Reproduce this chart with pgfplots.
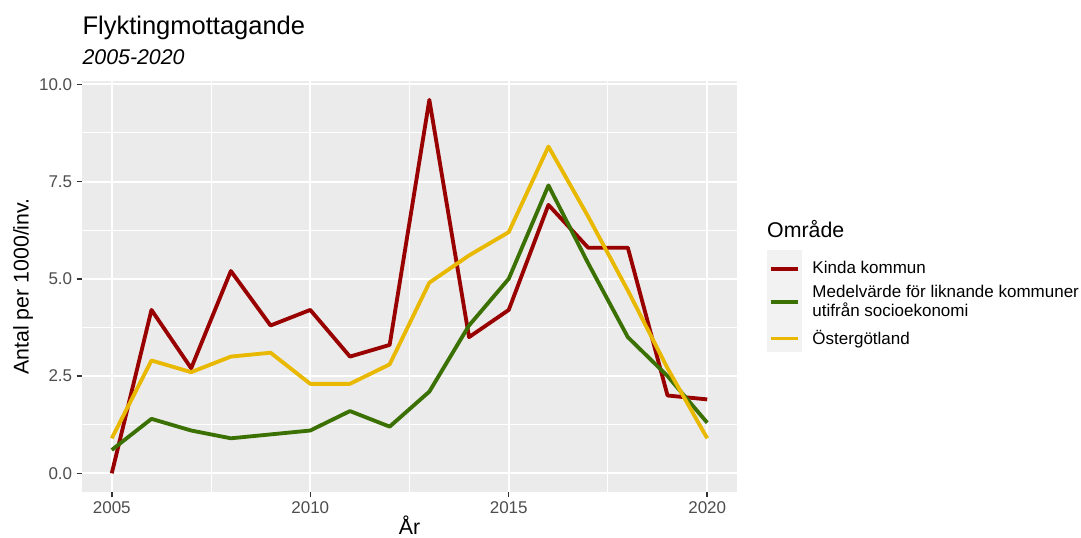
\documentclass[border=0pt]{standalone}
\usepackage{pgfplots}
\usepackage{pgfplotstable}
\pgfplotsset{compat=1.18}
\usepackage{fontspec}
\setmainfont{Liberation Sans}

\definecolor{panelgrey}{HTML}{EBEBEB}
\definecolor{keygrey}{HTML}{F2F2F2}
\definecolor{tickgrey}{HTML}{4D4D4D}
\definecolor{kinda}{HTML}{990000}
\definecolor{medel}{HTML}{3B7002}
\definecolor{ostg}{HTML}{E9B800}

% Antal per 1000 invanare
\pgfplotstableread{
ar   kinda medel ostg
2005 0.0   0.6   0.9
2006 4.2   1.4   2.9
2007 2.7   1.1   2.6
2008 5.2   0.9   3.0
2009 3.8   1.0   3.1
2010 4.2   1.1   2.3
2011 3.0   1.6   2.3
2012 3.3   1.2   2.8
2013 9.6   2.1   4.9
2014 3.5   3.8   5.6
2015 4.2   5.0   6.2
2016 6.9   7.4   8.4
2017 5.8   5.4   6.6
2018 5.8   3.5   4.7
2019 2.0   2.5   2.7
2020 1.9   1.3   0.9
}\flykt

\begin{document}
\begin{tikzpicture}
\useasboundingbox (0,0) rectangle (648.6pt,322.8pt);
% legend key background
\fill[keygrey] (460.2pt,111.6pt) rectangle (481.2pt,172.8pt);
\begin{axis}[
    at={(49.2pt,27.6pt)}, anchor=south west,
    scale only axis, width=393pt, height=246.5pt,
    xmin=2004.25, xmax=2020.75, ymin=-0.48, ymax=10.08,
    xtick={2005,2010,2015,2020}, ytick={0,2.5,5,7.5,10},
    minor xtick={2007.5,2012.5,2017.5}, minor ytick={1.25,3.75,6.25,8.75},
    grid=both,
    major grid style={white, line width=1.2pt},
    minor grid style={white, line width=0.6pt},
    axis background/.style={fill=panelgrey},
    axis line style={draw=none},
    xtick pos=bottom, ytick pos=left,
    tick align=outside, major tick length=3.2pt, minor tick length=0pt,
    tick style={color=black!80, line width=0.9pt},
    /pgf/number format/assume math mode=true,
    ticklabel style={font=\fontsize{10.2}{12}\selectfont, text=tickgrey, inner sep=0pt},
    xticklabel style={/pgf/number format/1000 sep={}, yshift=-2.5pt},
    yticklabel style={/pgf/number format/.cd, fixed, fixed zerofill, precision=1, /tikz/xshift=-2.5pt},
    every axis y label/.style={at={(axis description cs:0,0.5)}, xshift=-35.4pt, rotate=90, anchor=center,
        font=\fontsize{12.8}{14}\selectfont},
    every axis x label/.style={at={(axis description cs:0.5,0)}, yshift=-25.8pt, anchor=base,
        font=\fontsize{12.8}{14}\selectfont},
    ylabel={Antal per 1000/inv.},
    xlabel={År},
    legend cell align=left,
    legend image code/.code={\draw[#1] (0pt,0pt) -- (16.2pt,0pt);},
    legend style={at={(axis description cs:1.0496,0.5794)}, anchor=north west,
        draw=none, fill=none, inner sep=0pt, outer sep=0pt, row sep=0.6pt,
        nodes={inner sep=0pt, font=\fontsize{10.2}{11.4}\selectfont, minimum height=18pt, anchor=west},
        /tikz/every odd column/.append style={column sep=7.3pt}},
    clip mode=individual,
]
\addplot[kinda, line width=2.3pt, line join=round] table[x=ar, y=kinda] {\flykt};
\addlegendentry{Kinda kommun}
\addplot[medel, line width=2.3pt, line join=round] table[x=ar, y=medel] {\flykt};
\addlegendentry[align=left]{Medelvärde för liknande kommuner\\utifrån socioekonomi}
\addplot[ostg, line width=2.3pt, line join=round] table[x=ar, y=ostg] {\flykt};
\addlegendentry[minimum height=22.4pt]{Östergötland}
\end{axis}
\node[anchor=base west, font=\fontsize{15.3}{17}\selectfont] at (46pt,301.8pt) {Flyktingmottagande};
\node[anchor=base west, font=\fontsize{12.8}{14}\selectfont\itshape] at (46pt,283.8pt) {2005-2020};
\node[anchor=base west, font=\fontsize{12.8}{14}\selectfont] at (456.8pt,180pt) {Område};
\end{tikzpicture}
\end{document}
